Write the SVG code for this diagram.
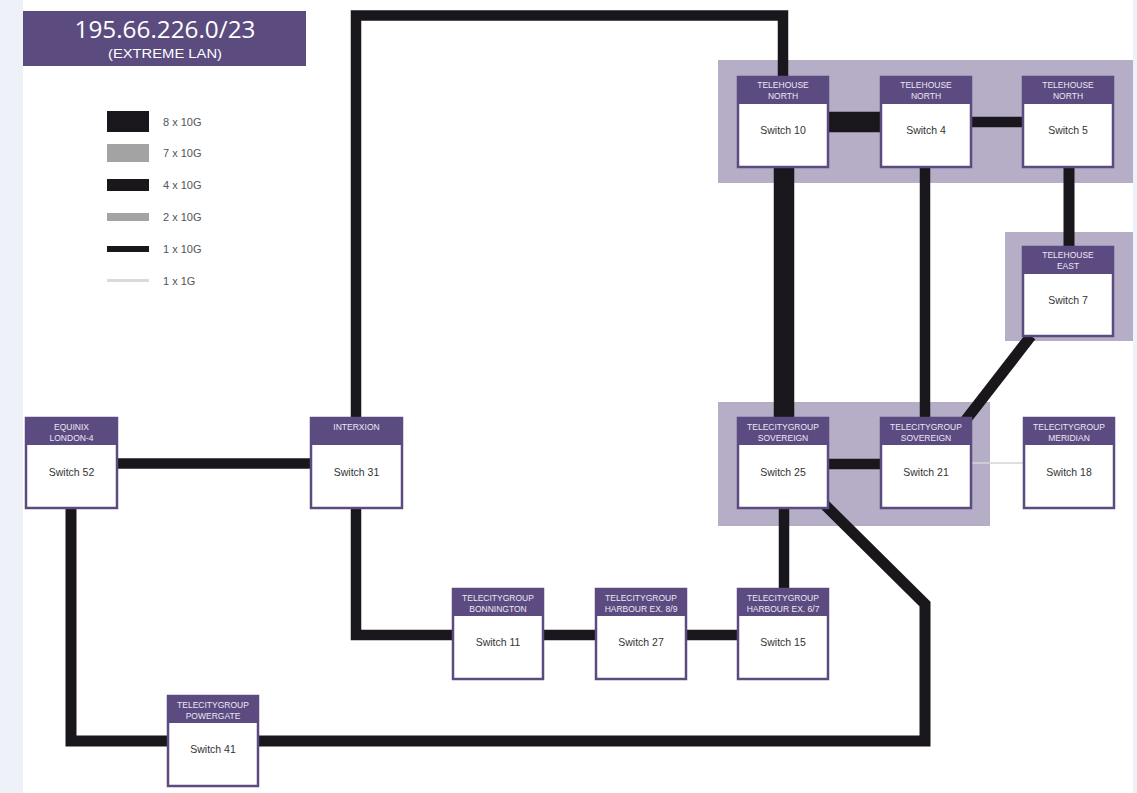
<svg xmlns="http://www.w3.org/2000/svg" width="1137" height="793" viewBox="0 0 1137 793">
<style>
.bg{fill:#b6adc6}
.box{fill:#ffffff;stroke:#5c4b80;stroke-width:2.5}
.hdr{fill:#5c4b80}
.ht{font-family:"Liberation Sans",Arial,sans-serif;font-size:8.5px;fill:#ece8f4;text-anchor:middle}
.bt{font-family:"Liberation Sans",Arial,sans-serif;font-size:10.5px;fill:#333333;text-anchor:middle}
.ln{fill:none;stroke:#19171c;stroke-linejoin:miter}
.w1{stroke-width:10.5}
.w4{stroke-width:11}
.w8{stroke-width:20.5}
.g1{stroke:#d4d4d4;stroke-width:1.5}
.lg{font-family:"Liberation Sans",Arial,sans-serif;font-size:11px;fill:#555555}
</style>
<rect x="0" y="0" width="1137" height="793" fill="#ffffff"/>
<rect x="0" y="0" width="23" height="793" fill="#eef1f8"/>
<rect x="1133" y="0" width="4" height="793" fill="#eef1f8"/>

<!-- title -->
<g id="title">
<rect x="23" y="11" width="283" height="55" fill="#5b4b7e"/>
<text x="165" y="38" font-family="'Open Sans','Liberation Sans',sans-serif" font-size="23" fill="#ffffff" text-anchor="middle" textLength="181" lengthAdjust="spacingAndGlyphs">195.66.226.0/23</text>
<text x="165" y="58" font-family="'Liberation Sans',Arial,sans-serif" font-size="12" fill="#ffffff" text-anchor="middle" textLength="114" lengthAdjust="spacingAndGlyphs">(EXTREME LAN)</text>
</g>

<!-- legend -->
<g id="legend">
<rect x="107" y="111" width="42" height="21" fill="#19171c"/>
<rect x="107" y="144" width="42" height="18" fill="#a3a3a3"/>
<rect x="107" y="179" width="42" height="12" fill="#19171c"/>
<rect x="107" y="213" width="42" height="8" fill="#a3a3a3"/>
<rect x="107" y="246" width="42" height="6" fill="#19171c"/>
<rect x="107" y="279" width="42" height="3" fill="#dadada"/>
<text class="lg" x="163" y="126">8 x 10G</text>
<text class="lg" x="163" y="157">7 x 10G</text>
<text class="lg" x="163" y="189">4 x 10G</text>
<text class="lg" x="163" y="221">2 x 10G</text>
<text class="lg" x="163" y="253">1 x 10G</text>
<text class="lg" x="163" y="285">1 x 1G</text>
</g>

<!-- site areas -->
<g id="areas">
<rect class="bg" x="718" y="60" width="415" height="123"/>
<rect class="bg" x="1005" y="232" width="128" height="109"/>
<rect class="bg" x="718" y="402" width="272" height="124"/>
</g>

<!-- connectors -->
<g id="connectors">
<path class="ln w1" d="M356,417 V15.5 H783 V77"/>
<path class="ln w1" d="M117,463.5 H310"/>
<path class="ln w1" d="M356,508 V635 H453"/>
<path class="ln w1" d="M543,635 H595"/>
<path class="ln w1" d="M687,635 H737"/>
<path class="ln w1" d="M784,588 V508"/>
<path class="ln w1" d="M828,464 H881"/>
<path class="ln g1" d="M970,463 H1024"/>
<path class="ln w4" d="M965,421 L1031,336"/>
<path class="ln w8" d="M829,122 H881"/>
<path class="ln w1" d="M971,122 H1022"/>
<path class="ln w8" d="M784,167 V418"/>
<path class="ln w1" d="M925,167 V418"/>
<path class="ln w4" d="M1069,167 V247"/>
<path class="ln w4" d="M824,504 L925,604 V741 H258"/>
<path class="ln w4" d="M168,741 H71 V508"/>
</g>

<!-- nodes -->
<g id="switch10">
<rect class="box" x="738" y="77" width="90" height="90"/>
<rect class="hdr" x="738" y="77" width="90" height="27"/>
<text class="ht" x="783" y="88">TELEHOUSE</text>
<text class="ht" x="783" y="99">NORTH</text>
<text class="bt" x="783" y="134">Switch 10</text>
</g>
<g id="switch4">
<rect class="box" x="881" y="77" width="90" height="90"/>
<rect class="hdr" x="881" y="77" width="90" height="27"/>
<text class="ht" x="926" y="88">TELEHOUSE</text>
<text class="ht" x="926" y="99">NORTH</text>
<text class="bt" x="926" y="134">Switch 4</text>
</g>
<g id="switch5">
<rect class="box" x="1023" y="77" width="90" height="90"/>
<rect class="hdr" x="1023" y="77" width="90" height="27"/>
<text class="ht" x="1068" y="88">TELEHOUSE</text>
<text class="ht" x="1068" y="99">NORTH</text>
<text class="bt" x="1068" y="134">Switch 5</text>
</g>
<g id="switch7">
<rect class="box" x="1023" y="247" width="90" height="89"/>
<rect class="hdr" x="1023" y="247" width="90" height="27"/>
<text class="ht" x="1068" y="258">TELEHOUSE</text>
<text class="ht" x="1068" y="269">EAST</text>
<text class="bt" x="1068" y="304">Switch 7</text>
</g>
<g id="switch25">
<rect class="box" x="738" y="418" width="90" height="90"/>
<rect class="hdr" x="738" y="418" width="90" height="27"/>
<text class="ht" x="783" y="430">TELECITYGROUP</text>
<text class="ht" x="783" y="441">SOVEREIGN</text>
<text class="bt" x="783" y="476">Switch 25</text>
</g>
<g id="switch21">
<rect class="box" x="881" y="418" width="90" height="90"/>
<rect class="hdr" x="881" y="418" width="90" height="27"/>
<text class="ht" x="926" y="430">TELECITYGROUP</text>
<text class="ht" x="926" y="441">SOVEREIGN</text>
<text class="bt" x="926" y="476">Switch 21</text>
</g>
<g id="switch18">
<rect class="box" x="1024" y="418" width="90" height="90"/>
<rect class="hdr" x="1024" y="418" width="90" height="27"/>
<text class="ht" x="1069" y="430">TELECITYGROUP</text>
<text class="ht" x="1069" y="441">MERIDIAN</text>
<text class="bt" x="1069" y="476">Switch 18</text>
</g>
<g id="switch52">
<rect class="box" x="26" y="418" width="91" height="90"/>
<rect class="hdr" x="26" y="418" width="91" height="27"/>
<text class="ht" x="71.5" y="430">EQUINIX</text>
<text class="ht" x="71.5" y="441">LONDON-4</text>
<text class="bt" x="71.5" y="476">Switch 52</text>
</g>
<g id="switch31">
<rect class="box" x="311" y="418" width="91" height="90"/>
<rect class="hdr" x="311" y="418" width="91" height="27"/>
<text class="ht" x="356.5" y="430">INTERXION</text>
<text class="bt" x="356.5" y="476">Switch 31</text>
</g>
<g id="switch11">
<rect class="box" x="453" y="589" width="90" height="90"/>
<rect class="hdr" x="453" y="589" width="90" height="27"/>
<text class="ht" x="498" y="601">TELECITYGROUP</text>
<text class="ht" x="498" y="612">BONNINGTON</text>
<text class="bt" x="498" y="646">Switch 11</text>
</g>
<g id="switch27">
<rect class="box" x="596" y="589" width="90" height="90"/>
<rect class="hdr" x="596" y="589" width="90" height="27"/>
<text class="ht" x="641" y="601">TELECITYGROUP</text>
<text class="ht" x="641" y="612">HARBOUR EX. 8/9</text>
<text class="bt" x="641" y="646">Switch 27</text>
</g>
<g id="switch15">
<rect class="box" x="738" y="589" width="90" height="90"/>
<rect class="hdr" x="738" y="589" width="90" height="27"/>
<text class="ht" x="783" y="601">TELECITYGROUP</text>
<text class="ht" x="783" y="612">HARBOUR EX. 6/7</text>
<text class="bt" x="783" y="646">Switch 15</text>
</g>
<g id="switch41">
<rect class="box" x="168" y="696" width="90" height="90"/>
<rect class="hdr" x="168" y="696" width="90" height="27"/>
<text class="ht" x="213" y="708">TELECITYGROUP</text>
<text class="ht" x="213" y="719">POWERGATE</text>
<text class="bt" x="213" y="753">Switch 41</text>
</g>
</svg>
